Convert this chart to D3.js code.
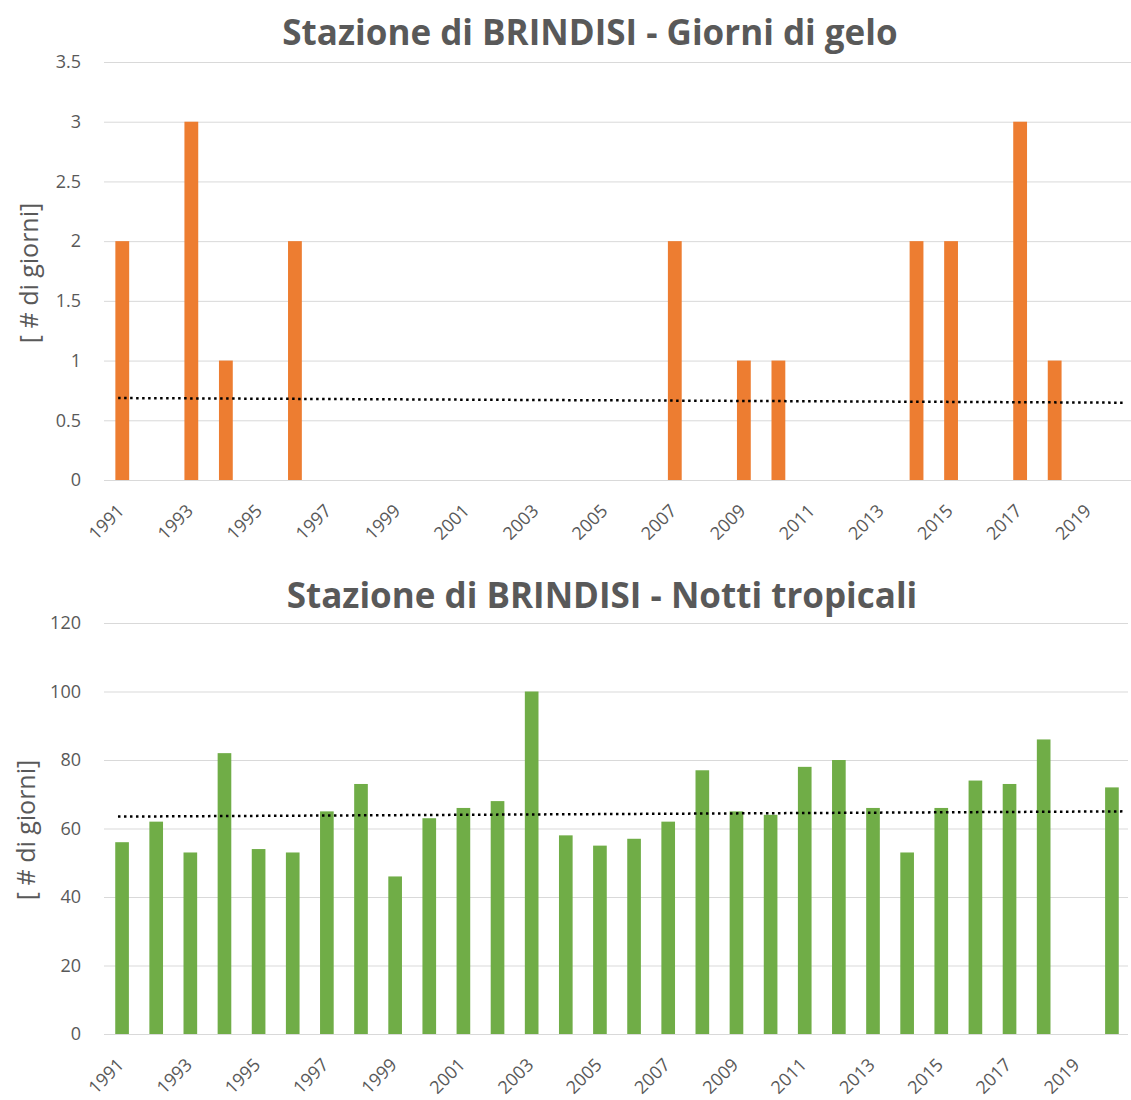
<!DOCTYPE html>
<html><head><meta charset="utf-8">
<script src="https://cdn.jsdelivr.net/npm/d3@7"></script>
<style>
body{margin:0;background:#fff;}
svg{display:block;font-family:"Open Sans","Noto Sans",sans-serif;}
</style></head>
<body>
<svg id="c" width="1131" height="1100"></svg>
<script>
const years = d3.range(1991, 2021).map(String);
const xTickLabels = ["1991","1993","1995","1997","1999","2001","2003","2005","2007","2009","2011","2013","2015","2017","2019"];
const geloValues = [2,0,3,1,0,2,0,0,0,0,0,0,0,0,0,0,2,0,1,1,0,0,0,2,2,0,3,1,0,0];
// 2019 has no value (no bar); Excel's trendline counts the empty cell as 0
const nottiValues = [56,62,53,82,54,53,65,73,46,63,66,68,100,58,55,57,62,77,65,64,78,80,66,53,66,74,73,86,null,72];
const geloTicks = [0,0.5,1,1.5,2,2.5,3,3.5];
const nottiTicks = [0,20,40,60,80,100,120];
const titles = ["Stazione di BRINDISI - Giorni di gelo","Stazione di BRINDISI - Notti tropicali"];
const yLabel = "[ # di giorni]";

const svg = d3.select("#c");

function panel(cfg){
  const g = svg.append("g");
  const x = d3.scaleBand().domain(years).range([cfg.bx0, cfg.bx1]).paddingInner(0.6).paddingOuter(0.3);
  const y = d3.scaleLinear().domain([0, cfg.ymax]).range([cfg.yb, cfg.yt]);
  // gridlines + y tick labels
  const grid = g.append("g").attr("transform",`translate(${cfg.x0},0)`)
    .call(d3.axisLeft(y).tickValues(cfg.ticks).tickSize(-(cfg.x1-cfg.x0)).tickFormat(d=>String(d)).tickPadding(cfg.x0-81));
  grid.select(".domain").remove();
  grid.selectAll(".tick line").attr("stroke","#d9d9d9").attr("stroke-width",1);
  grid.selectAll(".tick text").attr("fill","#595959").style("font-size","18px").attr("font-family","'Open Sans',sans-serif");
  // bars
  const data = years.map((yr,i)=>({yr, v: cfg.values[i], i}));
  g.append("g").selectAll("rect").data(data.filter(d=>d.v!=null && d.v>0)).join("rect")
    .attr("x", d=>x(d.yr)).attr("width", x.bandwidth())
    .attr("y", d=>y(d.v)).attr("height", d=>y(0)-y(d.v))
    .attr("fill", cfg.color);
  // x axis labels
  const xa = g.append("g").attr("transform",`translate(0,${cfg.yb})`)
    .call(d3.axisBottom(x).tickValues(xTickLabels).tickSize(0).tickPadding(0));
  xa.select(".domain").remove();
  xa.selectAll(".tick text")
    .attr("fill","#595959").style("font-size","18px").attr("font-family","'Open Sans',sans-serif")
    .attr("text-anchor","end").attr("dy",null).attr("y",null)
    .attr("transform",`translate(3,32) rotate(-45)`);
  // trend (linear regression; empty cell counted as 0, as in the source spreadsheet)
  const pts = data.map(d=>({i:d.i, v: d.v==null?0:d.v}));
  const mx = d3.mean(pts,d=>d.i), my = d3.mean(pts,d=>d.v);
  const b = d3.sum(pts,d=>(d.i-mx)*(d.v-my))/d3.sum(pts,d=>(d.i-mx)*(d.i-mx));
  const a = my - b*mx;
  const step = x.step();
  const xi = i => x(years[0]) + x.bandwidth()/2 + i*step;
  const i0 = -0.12, i1 = cfg.trendEnd;
  g.append("line")
    .attr("x1", xi(i0)).attr("y1", y(a+b*i0))
    .attr("x2", xi(i1)).attr("y2", y(a+b*i1))
    .attr("stroke","#000").attr("stroke-width",2.5)
    .attr("stroke-dasharray","2.5,3.5");
  // title
  g.append("text").attr("x", cfg.tx).attr("y", cfg.ty).attr("text-anchor","middle")
    .attr("fill","#595959").style("font-size","35px").style("font-weight","bold")
    .attr("font-family","'Open Sans',sans-serif").text(cfg.title);
  // y label
  g.append("text").attr("transform",`translate(${cfg.ylx},${cfg.yly}) rotate(-90)`)
    .attr("text-anchor","middle").attr("fill","#595959").style("font-size","25px")
    .attr("font-family","'Open Sans',sans-serif")
    .text(yLabel);
}

panel({values:geloValues, ticks:geloTicks, ymax:3.5, x0:104, x1:1131, bx0:105, bx1:1141, yb:480, yt:62, color:"#ED7D31",
  title:titles[0], tx:590, ty:45, ylx:38, yly:273, trendEnd:29.03});
panel({values:nottiValues, ticks:nottiTicks, ymax:120, x0:104, x1:1128, bx0:105, bx1:1129, yb:1034, yt:623, color:"#70AD47",
  title:titles[1], tx:602, ty:608, ylx:35, yly:830, trendEnd:29.38});
</script>
</body></html>
